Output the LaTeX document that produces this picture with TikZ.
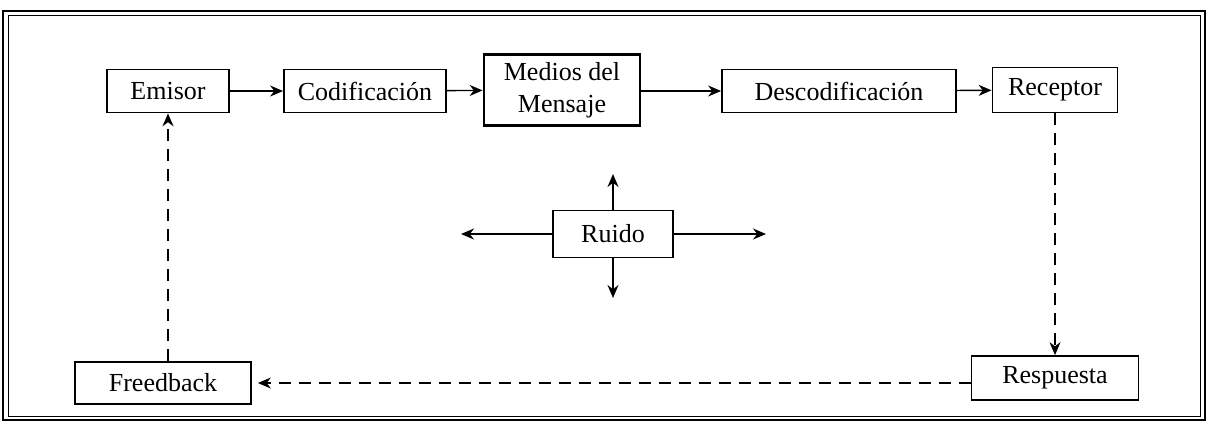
\documentclass[tikz,border=0pt]{standalone}
\usepackage{fontspec}
\setmainfont{Liberation Serif}
\usetikzlibrary{arrows.meta}
\begin{document}
\begin{tikzpicture}[x=0.5pt,y=-0.5pt,
  box/.style={draw, line width=0.9pt, inner sep=0pt, font=\fontsize{13}{16}\selectfont, align=center},
  arr/.style={line width=0.7pt, -{Stealth[length=6.5pt,width=5.5pt]}},
  darr/.style={arr, dashed, dash pattern=on 6pt off 4pt}]
\useasboundingbox (0,0) rectangle (1210,425);
\draw[line width=1.3pt] (3,11) rectangle (1205,420);
\draw[line width=0.5pt] (8,15) rectangle (1200,416);
\node[box, minimum width=61pt, minimum height=21.5pt] (emi) at (168,91) {Emisor};
\node[box, minimum width=81pt, minimum height=21.5pt] (cod) at (365,91) {Codificación};
\node[box, line width=1.4pt, minimum width=78pt, minimum height=35.5pt] (med) at (562,90) {Medios del\\Mensaje};
\node[box, minimum width=117pt, minimum height=21.5pt] (des) at (839,91) {Descodificación};
\node[box, minimum width=62.5pt, minimum height=22.5pt] (rec) at (1055,90) {Receptor};
\node[box, minimum width=60pt, minimum height=23.5pt] (rui) at (613,234) {Ruido};
\node[box, minimum width=88pt, minimum height=21pt] (fee) at (163,383) {Freedback};
\node[box, minimum width=83.5pt, minimum height=22pt] (res) at (1055,378) {Respuesta};
\coordinate (rl) at (461,234);
\coordinate (rr) at (766,234);
\coordinate (ru) at (613,174);
\coordinate (rd) at (613,298);
\draw[arr] (emi) -- (cod);
\draw[arr] (cod) -- (med);
\draw[arr] (med.east |- des) -- (des);
\draw[arr] (des) -- (rec);
\draw[arr] (rui) -- (rl);
\draw[arr] (rui) -- (rr);
\draw[arr] (rui) -- (ru);
\draw[arr] (rui) -- (rd);
\draw[darr] (rec.south) -- (res.north);
\draw[darr] (res.west |- fee) -- ([xshift=3pt]fee.east);
\draw[darr] (fee.north -| emi) -- (emi.south);
\end{tikzpicture}
\end{document}
